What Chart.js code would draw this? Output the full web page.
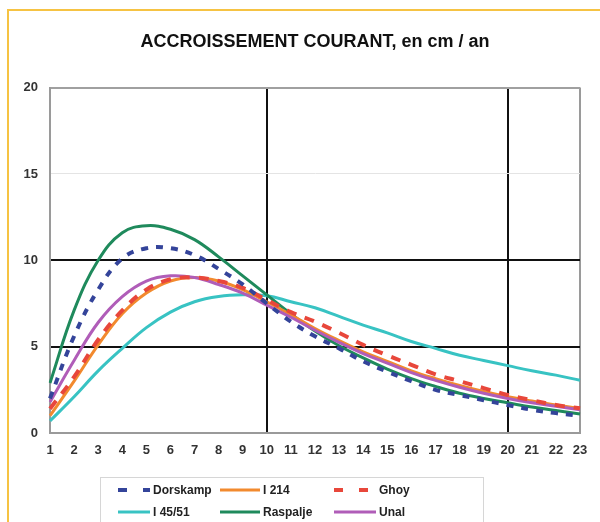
<!DOCTYPE html>
<html>
<head>
<meta charset="utf-8">
<script src="https://cdn.jsdelivr.net/npm/chart.js@4.4.0/dist/chart.umd.min.js"></script>
<style>
html, body { margin: 0; padding: 0; background: #fff; }
#wrap { position: relative; width: 600px; height: 522px; overflow: hidden; }
#frame { position: absolute; left: 7px; top: 9px; width: 600px; height: 600px;
         border-left: 2px solid #f6c343; border-top: 2px solid #f6c343; }
canvas { position: absolute; left: 0; top: 0; }
</style>
</head>
<body>
<div id="wrap">
  <div id="frame"></div>
  <canvas id="chart" width="600" height="522"></canvas>
</div>
<script>
// ---------- Data ----------

const years = ["1","2","3","4","5","6","7","8","9","10","11","12",
               "13","14","15","16","17","18","19","20","21","22","23"];

const dorskamp = [2.0, 5.6, 8.3, 10.1, 10.7, 10.7, 10.3, 9.5, 8.6, 7.5, 6.45, 5.6,
                  4.9, 4.15, 3.55, 3.0, 2.5, 2.2, 1.9, 1.62, 1.35, 1.15, 1.0];
const i214     = [1.0, 3.0, 5.1, 6.9, 8.1, 8.8, 9.0, 8.8, 8.3, 7.6, 6.85, 6.05,
                  5.35, 4.7, 4.15, 3.6, 3.15, 2.75, 2.4, 2.1, 1.85, 1.62, 1.42];
const ghoy     = [1.4, 3.25, 5.4, 7.1, 8.3, 8.9, 9.0, 8.8, 8.4, 7.7, 7.0, 6.45,
                  5.8, 5.1, 4.5, 3.95, 3.4, 3.0, 2.6, 2.2, 1.9, 1.62, 1.43];
const i4551    = [0.7, 2.1, 3.6, 4.9, 6.1, 7.0, 7.6, 7.9, 8.0, 7.95, 7.6, 7.25,
                  6.75, 6.25, 5.8, 5.3, 4.9, 4.5, 4.2, 3.9, 3.6, 3.35, 3.05];
const raspalje = [2.9, 7.1, 10.0, 11.6, 12.0, 11.8, 11.2, 10.2, 9.1, 8.0, 6.9, 5.9,
                  5.05, 4.35, 3.7, 3.15, 2.7, 2.3, 2.0, 1.75, 1.5, 1.3, 1.1];
const unal     = [1.8, 4.2, 6.4, 7.9, 8.8, 9.1, 9.0, 8.6, 8.1, 7.4, 6.7, 5.95,
                  5.25, 4.6, 4.05, 3.5, 3.05, 2.65, 2.3, 2.0, 1.75, 1.55, 1.35];

const yTicks = [0, 5, 10, 15, 20];

// ---------- Legend drawn as a 3-column grid ----------

const gridLegend = {
    id: "gridLegend",
    afterDraw(chart) {
        const ctx = chart.ctx;
        const lineX = [118, 220, 334];
        const textX = [152, 262, 378];
        const rowY = [490, 512];

        ctx.save();
        ctx.strokeStyle = "#d6d6d6";
        ctx.lineWidth = 1;
        ctx.strokeRect(100.5, 477.5, 383, 60);

        chart.data.datasets.forEach((ds, i) => {
            const c = i % 3;
            const y = rowY[Math.floor(i / 3)];
            ctx.strokeStyle = ds.borderColor;
            ctx.lineWidth = ds.borderWidth;
            ctx.setLineDash(ds.borderDash ? [9, 16] : []);
            ctx.beginPath();
            ctx.moveTo(lineX[c], y);
            ctx.lineTo(textX[c] - 2, y);
            ctx.stroke();
            ctx.setLineDash([]);
            ctx.fillStyle = "#222";
            ctx.font = "bold 12px 'Liberation Sans', Arial, sans-serif";
            ctx.textBaseline = "middle";
            ctx.fillText(ds.label, textX[c] + 1, y + 1);
        });
        ctx.restore();
    }
};

// ---------- Chart ----------

const tickFont = { family: "'Liberation Sans', Arial, sans-serif", size: 13, weight: "bold" };

new Chart(document.getElementById("chart"), {
    type: "line",
    data: {
        labels: years,
        datasets: [
            { label: "Dorskamp", data: dorskamp, borderColor: "#34449a", borderWidth: 4, borderDash: [7, 8], order: 1 },
            { label: "I 214", data: i214, borderColor: "#f28a2e", borderWidth: 3, order: 4 },
            { label: "Ghoy", data: ghoy, borderColor: "#e8473b", borderWidth: 4, borderDash: [10, 9], order: 2 },
            { label: "I 45/51", data: i4551, borderColor: "#38c3c3", borderWidth: 3, order: 6 },
            { label: "Raspalje", data: raspalje, borderColor: "#1f8a5c", borderWidth: 3, order: 5 },
            { label: "Unal", data: unal, borderColor: "#b05db8", borderWidth: 3, order: 3 }
        ]
    },
    options: {
        responsive: false,
        animation: false,
        elements: {
            point: { radius: 0 },
            line: { tension: 0.4, fill: false }
        },
        layout: { padding: { left: 8, right: 20, top: 0, bottom: 59 } },
        plugins: {
            legend: { display: false },
            tooltip: { enabled: false },
            title: {
                display: true,
                fullSize: false,
                text: "ACCROISSEMENT COURANT, en cm / an",
                color: "#111",
                font: { family: "'Liberation Sans', Arial, sans-serif", size: 18, weight: "bold" },
                padding: { top: 31, bottom: 35 }
            }
        },
        scales: {
            x: {
                grid: {
                    drawTicks: false,
                    color: c => {
                        const v = years[c.index];
                        if (v === "10" || v === "20") return "#111";
                        if (v === "1" || v === "23") return "#9a9a9a";
                        return "rgba(0,0,0,0)";
                    },
                    lineWidth: 2
                },
                border: { color: "#9a9a9a", width: 2 },
                ticks: { color: "#333", font: tickFont, padding: 10, maxRotation: 0, autoSkip: false },
                afterFit: s => { s.height = 30; }
            },
            y: {
                min: 0,
                max: 20,
                afterBuildTicks: s => { s.ticks = yTicks.map(v => ({ value: v })); },
                grid: {
                    drawTicks: false,
                    color: c => {
                        const v = c.tick.value;
                        if (v === 5 || v === 10) return "#111";
                        if (v === 15) return "#e4e4e4";
                        return "#a0a0a0";
                    },
                    lineWidth: c => (c.tick.value === 15 ? 1 : 2)
                },
                border: { color: "#9a9a9a", width: 2 },
                ticks: { color: "#333", font: tickFont, padding: 12 },
                afterFit: s => { s.width = 42; }
            }
        }
    },
    plugins: [gridLegend]
});
</script>
</body>
</html>
